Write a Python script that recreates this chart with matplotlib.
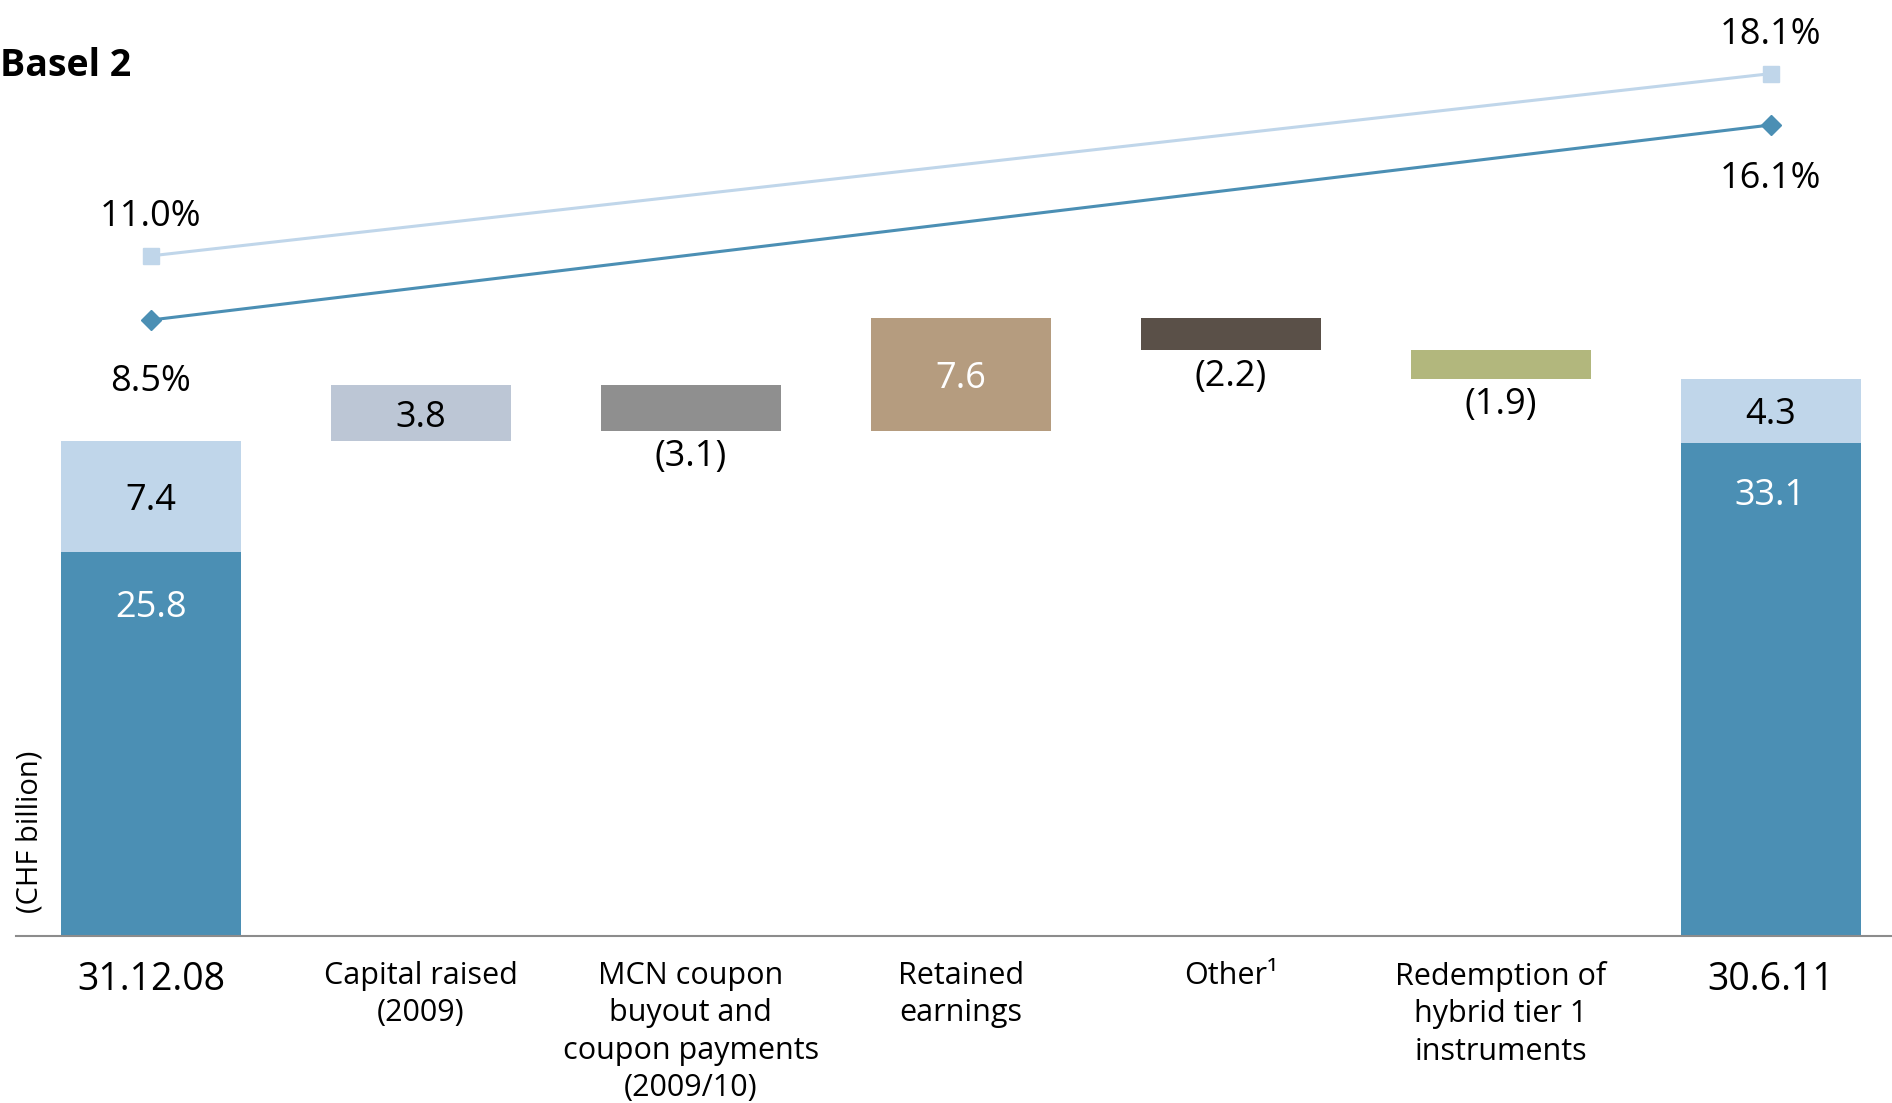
import matplotlib
matplotlib.use('Agg')
import matplotlib.pyplot as plt

plt.rcParams['font.family'] = ['Open Sans', 'DejaVu Sans']

# data
categories = ['31.12.08', 'Capital raised\n(2009)',
              'MCN coupon\nbuyout and\ncoupon payments\n(2009/10)',
              'Retained\nearnings', 'Other\u00b9',
              'Redemption of\nhybrid tier 1\ninstruments', '30.6.11']
start_core = 25.8
start_hybrid = 7.4
changes = [3.8, -3.1, 7.6, -2.2, -1.9]
end_core = 33.1
end_hybrid = 4.3
total_ratio = [11.0, 18.1]
tier1_ratio = [8.5, 16.1]

dark_blue = '#4B8FB4'
light_blue = '#C0D6EA'
change_colors = ['#BCC6D5', '#8F8F8F', '#B59C7F', '#5A5048', '#B2B77D']
change_text = ['black', 'black', 'white', 'black', 'black']

W, H = 1892, 1103
fig = plt.figure(figsize=(W / 100, H / 100), dpi=100)
base_px = 936
ax = fig.add_axes([16 / W, (H - base_px) / H, 1 - 16 / W, base_px / H])
ax.set_xlim(-0.5, 6.45)
ax.set_ylim(0, base_px / 14.9)

bw = 0.667
n = len(categories)
fs = 26

# start bar
ax.bar(0, start_core, width=bw, color=dark_blue)
ax.bar(0, start_hybrid, bottom=start_core, width=bw, color=light_blue)
ax.text(0, start_core - 3.5, f'{start_core}', ha='center', va='center_baseline', fontsize=fs, color='white')
ax.text(0, start_core + start_hybrid / 2, f'{start_hybrid}', ha='center', va='center_baseline', fontsize=fs, color='black')

# waterfall steps
running = start_core + start_hybrid
for i, ch in enumerate(changes):
    x = i + 1
    bottom = min(running, running + ch)
    ax.bar(x, abs(ch), bottom=bottom, width=bw, color=change_colors[i])
    if ch > 0:
        ax.text(x, bottom + ch / 2, f'{ch}', ha='center', va='center_baseline', fontsize=fs, color=change_text[i])
    else:
        ax.text(x, bottom - 1.75, f'({abs(ch)})', ha='center', va='center', fontsize=fs, color='black')
    running += ch

# end bar
ax.bar(n - 1, end_core, width=bw, color=dark_blue)
ax.bar(n - 1, end_hybrid, bottom=end_core, width=bw, color=light_blue)
ax.text(n - 1, end_core - 3.3, f'{end_core}', ha='center', va='center_baseline', fontsize=fs, color='white')
ax.text(n - 1, end_core + end_hybrid / 2, f'{end_hybrid}', ha='center', va='center_baseline', fontsize=fs, color='black')

ax.set_xticks(range(n))
ax.set_xticklabels(categories, fontsize=22, linespacing=1.32)
ax.tick_params(axis='x', length=0, pad=18)
for lbl in (ax.get_xticklabels()[0], ax.get_xticklabels()[-1]):
    lbl.set_fontsize(27)
ax.set_yticks([])
for s in ['top', 'left', 'right']:
    ax.spines[s].set_visible(False)
ax.spines['bottom'].set_color('#8C8C8C')
ax.spines['bottom'].set_linewidth(1.5)

# ratio lines
ax2 = ax.twinx()
ax2.set_ylim((538.1 - base_px) / 25.66, 538.1 / 25.66)
ax2.axis('off')
xs = [0, n - 1]
ax2.plot(xs, total_ratio, color=light_blue, lw=2.2, marker='s', ms=11)
ax2.plot(xs, tier1_ratio, color=dark_blue, lw=2.2, marker='D', ms=10)
for x, v, off in zip(xs, total_ratio, [28, 27.5]):
    ax2.annotate(f'{v}%', (x, v), xytext=(0, off), textcoords='offset points',
                 ha='center', va='center', fontsize=fs)
for x, v, off in zip(xs, tier1_ratio, [-45, -39]):
    ax2.annotate(f'{v}%', (x, v), xytext=(0, off), textcoords='offset points',
                 ha='center', va='center', fontsize=fs)

fig.text(0.0, 1 - 66 / H, 'Basel 2', fontsize=27, fontweight='bold', ha='left', va='center')
fig.text(30 / W, 1 - 832 / H, '(CHF billion)', fontsize=21, rotation=90, ha='center', va='center')

fig.savefig('out.png', dpi=100)
